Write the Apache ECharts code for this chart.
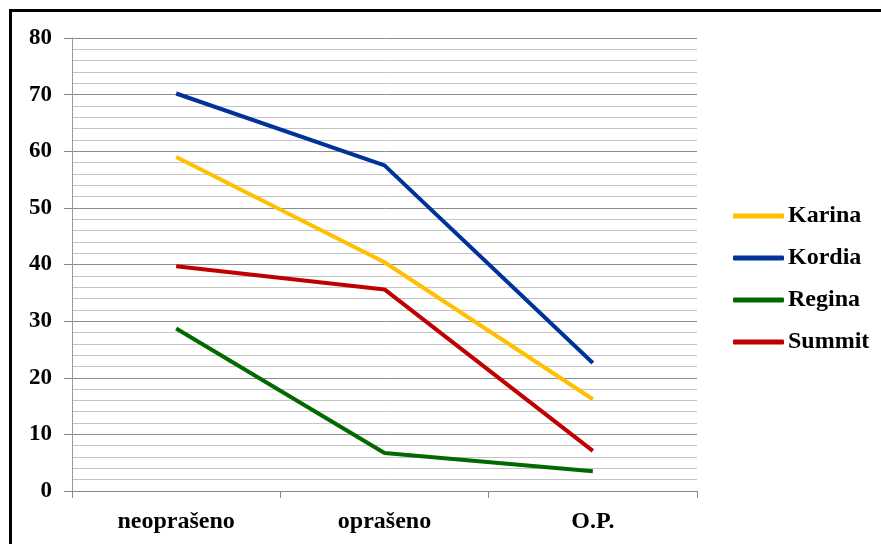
<!DOCTYPE html>
<html>
<head>
<meta charset="utf-8">
<script src="https://cdn.jsdelivr.net/npm/echarts@6/dist/echarts.min.js"></script>
<style>html,body{margin:0;padding:0;background:#fff}#c{width:881px;height:544px}</style>
</head>
<body>
<div id="c"></div>
<script>
const categories = ['neoprašeno', 'oprašeno', 'O.P.'];
const karina = [59.0, 40.4, 16.2];
const kordia = [70.2, 57.5, 22.6];
const regina = [28.7, 6.7, 3.5];
const summit = [39.7, 35.6, 7.1];
const yTicks = [0, 10, 20, 30, 40, 50, 60, 70, 80];

const font = 'Liberation Serif';
const chart = echarts.init(document.getElementById('c'));
function s(name, data, color) {
  return { name, type: 'line', data, symbol: 'none', showSymbol: false,
    lineStyle: { color, width: 4 }, itemStyle: { color }, animation: false };
}
chart.setOption({
  animation: false,
  graphic: [{ type: 'rect', shape: { x: 10.5, y: 10.5, width: 1000, height: 1000 },
    style: { fill: 'none', stroke: '#000', lineWidth: 3 }, silent: true }],
  grid: { left: 72, right: 184, top: 38, bottom: 53, containLabel: false },
  legend: {
    orient: 'vertical', left: 733, top: 204, padding: 0,
    icon: 'roundRect', itemWidth: 51, itemHeight: 5, itemGap: 18,
    data: ['Karina', 'Kordia', 'Regina', 'Summit'],
    textStyle: { fontFamily: font, fontWeight: 'bold', fontSize: 24, lineHeight: 24, color: '#000', padding: [0, 0, 0, -1] }
  },
  xAxis: {
    type: 'category', data: categories, boundaryGap: true,
    axisLine: { lineStyle: { color: '#888', width: 1 } },
    axisTick: { show: true, length: 7, lineStyle: { color: '#888' } },
    axisLabel: { fontFamily: font, fontWeight: 'bold', fontSize: 24, color: '#000', margin: 19 }
  },
  yAxis: {
    type: 'value', min: yTicks[0], max: yTicks[yTicks.length - 1], interval: 10,
    axisLine: { show: true, lineStyle: { color: '#999', width: 1 } },
    axisTick: { show: true, length: 8, lineStyle: { color: '#888' } },
    axisLabel: { fontFamily: font, fontWeight: 'bold', fontSize: 23, color: '#000', margin: 20 },
    splitLine: { show: true, lineStyle: { color: '#8c8c8c', width: 1 } },
    minorTick: { show: false, splitNumber: 5 },
    minorSplitLine: { show: true, lineStyle: { color: '#c4c4c4', width: 1 } }
  },
  series: [s('Karina', karina, '#FFC000'), s('Kordia', kordia, '#003399'),
           s('Regina', regina, '#006A00'), s('Summit', summit, '#C00000')]
});
</script>
</body>
</html>
